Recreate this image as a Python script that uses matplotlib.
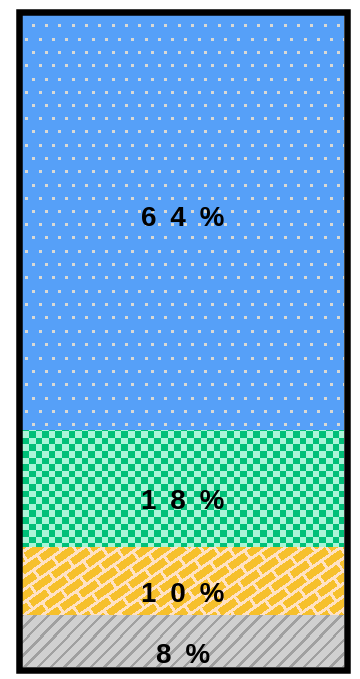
import numpy as np
import matplotlib
matplotlib.use("Agg")
import matplotlib.pyplot as plt
from matplotlib.patches import Rectangle

# ---- data (bottom to top) ----
categories = ["D", "C", "B", "A"]
values = [8.0, 10.4, 17.9, 63.7]
labels = ["8 %", "1 0 %", "1 8 %", "6 4 %"]

# ---- style ----
label_offsets = [-2.3, -2.1, -2.0, 0.5]  # in value units, label shift from segment center

W, H = 360, 679
DPI = 100
fig = plt.figure(figsize=(W / DPI, H / DPI), dpi=DPI)
fig.patch.set_facecolor("white")

# inner area in pixels (from top-left)
x0, x1 = 22, 344
y0, y1 = 15, 667
ax = fig.add_axes([x0 / W, 1 - y1 / H, (x1 - x0) / W, (y1 - y0) / H])
ax.set_xlim(-0.5, 0.5)
total = sum(values)
ax.set_ylim(0, total)
ax.axis("off")

pw, ph = x1 - x0, y1 - y0
jj, ii = np.meshgrid(np.arange(pw), np.arange(ph))  # ii: row from top


def hex2rgb(h):
    h = h.lstrip("#")
    return np.array([int(h[k:k + 2], 16) for k in (0, 2, 4)], dtype=float) / 255


def tex_dots(base, dot):
    img = np.empty((ph, pw, 3))
    img[:] = hex2rgb(base)
    pitch = 13.25
    k = 0
    y = 10.5
    while y < ph:
        xs = 10.0 if k % 2 == 0 else 10.0 - pitch / 2
        x = xs
        while x < pw:
            r, c = int(round(y)), int(round(x))
            if c >= 0:
                img[r:r + 3, c:c + 3] = hex2rgb(dot)
            x += pitch
        y += pitch
        k += 1
    return img


def tex_checker(c1, c2, cell=6.6):
    m = ((np.floor(jj / cell) + np.floor(ii / cell)) % 2).astype(bool)
    img = np.empty((ph, pw, 3))
    img[:] = hex2rgb(c1)
    img[m] = hex2rgb(c2)
    return img


def tex_bricks(base, mortar, angle=35, L=23.0, Hr=10.5, mw=3.0):
    th = np.deg2rad(angle)
    yy = -ii.astype(float)
    xx = jj.astype(float)
    u = xx * np.cos(th) + yy * np.sin(th)
    v = -xx * np.sin(th) + yy * np.cos(th)
    row = np.floor(v / Hr)
    vm = v - row * Hr
    uo = u + (row % 2) * L / 2
    um = uo - np.floor(uo / L) * L
    m = (vm < mw) | (um < mw)
    img = np.empty((ph, pw, 3))
    img[:] = hex2rgb(base)
    img[m] = hex2rgb(mortar)
    return img


def tex_lines(base, line, period=13.3, lw=3.6):
    s = (jj + ii) % period
    m = s < lw
    img = np.empty((ph, pw, 3))
    img[:] = hex2rgb(base)
    img[m] = hex2rgb(line)
    return img


textures = [
    tex_lines("#d0d0d0", "#a0a0a0"),
    tex_bricks("#f6c02c", "#ffe2c4"),
    tex_checker("#00c078", "#aaf5d8"),
    tex_dots("#56a0f8", "#d9d9d4"),
]

bottom = 0.0
for val, lab, tex, off in zip(values, labels, textures, label_offsets):
    bars = ax.bar([0], [val], bottom=bottom, width=1.0, color="none", edgecolor="none")
    patch = bars.patches[0]
    im = ax.imshow(tex, extent=(-0.5, 0.5, 0, total), aspect="auto",
                   interpolation="nearest", origin="upper", zorder=1)
    im.set_clip_path(patch)
    ax.text(0, bottom + val / 2 + off, lab.replace(" ", "\u2002"), ha="center", va="center",
            fontsize=20, fontweight="bold", family=["Liberation Sans", "DejaVu Sans"],
            color="black", zorder=3)
    bottom += val

ax.set_xlim(-0.5, 0.5)
ax.set_ylim(0, total)

# thick black frame
lw_px = 6.5
frame = Rectangle((18.5 / W, 1 - 670.0 / H), (347.0 - 18.5) / W, (670.0 - 12.0) / H,
                  transform=fig.transFigure, fill=False, edgecolor="black",
                  linewidth=lw_px * 72 / DPI, zorder=10)
fig.patches.append(frame)

fig.savefig("out.png", dpi=DPI)
